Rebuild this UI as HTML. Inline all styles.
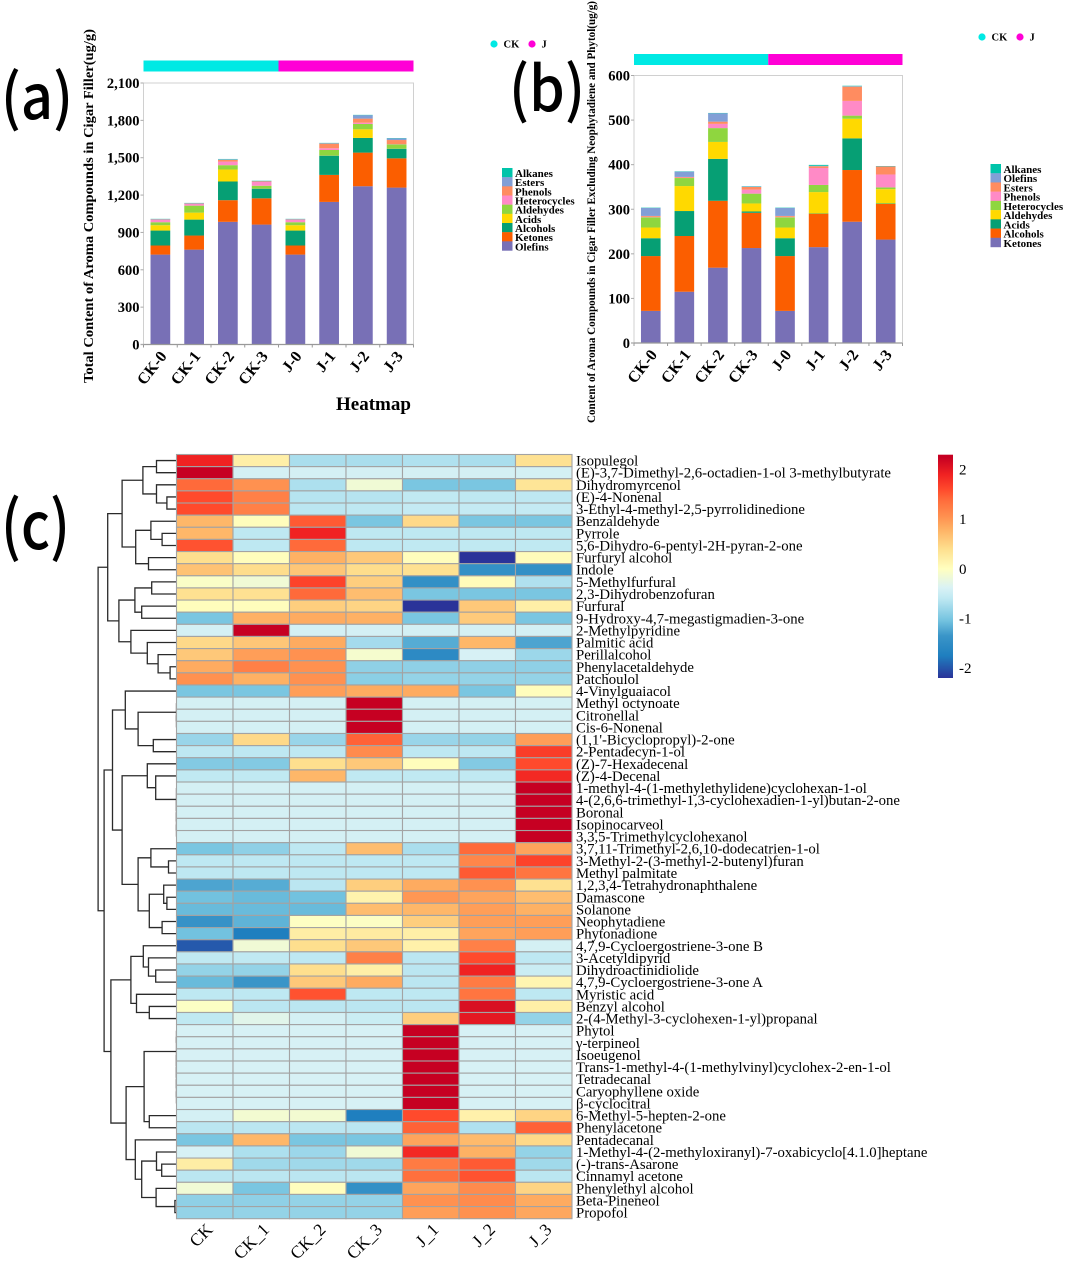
<!DOCTYPE html>
<html lang="en">
<head>
<meta charset="utf-8">
<title>Aroma compounds in cigar filler</title>
<style>
html,body{margin:0;padding:0;background:#fff;}
svg{display:block;}
text{font-family:"Liberation Serif","Noto Serif CJK SC",serif;fill:#000;}
.big{font-family:"Noto Sans CJK SC","Liberation Sans",sans-serif;font-weight:500;}
.bold{font-weight:bold;}
</style>
</head>
<body>
<svg id="figure" xmlns="http://www.w3.org/2000/svg" width="1065" height="1262" viewBox="0 0 1065 1262">
  <text class="big" x="1" y="119" font-size="62" textLength="72" lengthAdjust="spacingAndGlyphs">(a)</text>
  <text class="big" x="509" y="111" font-size="62" textLength="76" lengthAdjust="spacingAndGlyphs">(b)</text>
  <text class="big" x="1" y="549" font-size="66" textLength="69" lengthAdjust="spacingAndGlyphs">(c)</text>
  <text class="bold" transform="translate(93,383) rotate(-90)" font-size="14" textLength="354" lengthAdjust="spacingAndGlyphs">Total Content of Aroma Compounds in Cigar Filler(ug/g)</text>
  <text class="bold" transform="translate(595,423) rotate(-90)" font-size="11.5" textLength="422" lengthAdjust="spacingAndGlyphs">Content of Aroma Compounds in Cigar Filler Excluding Neophytadiene and Phytol(ug/g)</text>
  <text class="bold" x="336" y="410" font-size="19">Heatmap</text>
  <g id="chart-a"></g>
  <g id="chart-b"></g>
  <g id="dendrogram"></g>
  <g id="heatmap"></g>
  <g id="colorbar"></g>
</svg>
<script>
/* ---------- stacked bar data, chart (a) ---------- */
const categories = ['CK-0','CK-1','CK-2','CK-3','J-0','J-1','J-2','J-3'];
const aTicks = [0,300,600,900,1200,1500,1800,2100];
const aOlefins = [722,762,985,963,722,1145,1271,1260];
const aKetones = [73,113,174,211,73,217,270,235];
const aAlcohols = [120,128,150,78,120,155,118,78];
const aAcids = [43,56,96,2,43,3,69,2];
const aAldehydes = [24,56,35,21,24,42,43,33];
const aHeterocycles = [21,16,29,30,21,14,10,2];
const aPhenols = [2,3,14,5,2,37,33,32];
const aEsters = [2,2,4,3,2,4,28,14];
const aAlkanes = [2,1,3,2,2,2,2,2];

/* ---------- stacked bar data, chart (b) ---------- */
const bTicks = [0,100,200,300,400,500,600];
const bKetones = [72,115,169,213,72,215,272,232];
const bAlcohols = [123,125,150,79,123,75,116,80];
const bAcids = [40,56,94,3,40,0.5,71,1];
const bAldehydes = [24,56,38,18,24,48,44,32];
const bHeterocycles = [23,18,31,22,23,16,7,4];
const bPhenols = [1,1,9.5,9,1,38,33,29];
const bEsters = [2,1.5,5,6,2,4,32,18];
const bOlefins = [18,12,19,1,18,1,1,0.5];
const bAlkanes = [0.5,0.5,0.5,0.5,0.5,2,1,0.5];

/* ---------- heatmap data ---------- */
const columnLabels = ['CK','CK_1','CK_2','CK_3','J_1','J_2','J_3'];
const rowLabels = [
'Isopulegol','(E)-3,7-Dimethyl-2,6-octadien-1-ol 3-methylbutyrate','Dihydromyrcenol','(E)-4-Nonenal',
'3-Ethyl-4-methyl-2,5-pyrrolidinedione','Benzaldehyde','Pyrrole','5,6-Dihydro-6-pentyl-2H-pyran-2-one',
'Furfuryl alcohol','Indole','5-Methylfurfural','2,3-Dihydrobenzofuran','Furfural',
'9-Hydroxy-4,7-megastigmadien-3-one','2-Methylpyridine','Palmitic acid','Perillalcohol',
'Phenylacetaldehyde','Patchoulol','4-Vinylguaiacol','Methyl octynoate','Citronellal','Cis-6-Nonenal',
"(1,1'-Bicyclopropyl)-2-one",'2-Pentadecyn-1-ol','(Z)-7-Hexadecenal','(Z)-4-Decenal',
'1-methyl-4-(1-methylethylidene)cyclohexan-1-ol','4-(2,6,6-trimethyl-1,3-cyclohexadien-1-yl)butan-2-one',
'Boronal','Isopinocarveol','3,3,5-Trimethylcyclohexanol','3,7,11-Trimethyl-2,6,10-dodecatrien-1-ol',
'3-Methyl-2-(3-methyl-2-butenyl)furan','Methyl palmitate','1,2,3,4-Tetrahydronaphthalene','Damascone',
'Solanone','Neophytadiene','Phytonadione','4,7,9-Cycloergostriene-3-one B','3-Acetyldipyrid',
'Dihydroactinidiolide','4,7,9-Cycloergostriene-3-one A','Myristic acid','Benzyl alcohol',
'2-(4-Methyl-3-cyclohexen-1-yl)propanal','Phytol','γ-terpineol','Isoeugenol',
'Trans-1-methyl-4-(1-methylvinyl)cyclohex-2-en-1-ol','Tetradecanal','Caryophyllene oxide','β-cyclocitral',
'6-Methyl-5-hepten-2-one','Phenylacetone','Pentadecanal',
'1-Methyl-4-(2-methyloxiranyl)-7-oxabicyclo[4.1.0]heptane','(-)-trans-Asarone','Cinnamyl acetone',
'Phenylethyl alcohol','Beta-Pineneol','Propofol'];
const heatValues = [
[1.9,.2,-.72,-.72,-.68,-.72,.37],
[2.25,-.42,-.42,-.42,-.42,-.42,-.42],
[1.4,1.05,-.7,-.15,-1,-1,.33],
[1.6,1.2,-.65,-.65,-.58,-.6,-.6],
[1.6,1.2,-.62,-.6,-.55,-.55,-.55],
[.75,.03,1.5,-1,.45,-1,-1],
[.75,-.6,1.9,-.6,-.6,-.6,-.6],
[1.55,-.6,1.4,-.6,-.58,-.58,-.58],
[.4,.03,.8,.6,.03,-2.25,.05],
[.65,.42,.62,.42,.38,-1.45,-1.45],
[-.05,-.15,1.65,.55,-1.45,.05,-.68],
[.38,.37,1.4,.7,-1,-1,-1],
[.03,.03,.55,.5,-2.25,.6,.2],
[-1,.8,.85,.8,-1,.58,-1],
[-.42,2.25,-.42,-.42,-.42,-.42,-.42],
[.45,.62,.85,-.75,-1.2,.75,-1.25],
[.6,.95,1.05,-.1,-1.55,-.4,-.8],
[.85,1.2,1.05,-.88,-.88,-.88,-.88],
[1.05,.8,1.05,-.9,-.85,-.85,-.85],
[-1,-1,.95,.85,.85,-1,.03],
[-.42,-.42,-.42,2.25,-.42,-.42,-.42],
[-.42,-.42,-.42,2.25,-.42,-.42,-.42],
[-.42,-.42,-.42,2.25,-.42,-.42,-.42],
[-.82,.45,-.82,1.45,-.82,-.85,.95],
[-.6,-.6,-.6,1.1,-.6,-.6,1.7],
[-.95,-.95,.4,.6,.03,-.95,1.6],
[-.58,-.58,.75,-.58,-.58,-.58,1.85],
[-.42,-.42,-.42,-.42,-.42,-.42,2.25],
[-.42,-.42,-.42,-.42,-.42,-.42,2.25],
[-.42,-.42,-.42,-.42,-.42,-.42,2.25],
[-.42,-.42,-.42,-.42,-.42,-.42,2.25],
[-.42,-.42,-.42,-.42,-.42,-.42,2.25],
[-1,-.88,-.6,.7,-.72,1.4,.9],
[-.6,-.6,-.6,-.6,-.6,1.15,1.65],
[-.6,-.6,-.6,-.6,-.6,1.5,1.3],
[-1.25,-1.2,-.62,.55,.85,1.05,.38],
[-1.05,-1.1,-1.05,.15,1,.9,.7],
[-1.1,-1.1,-1.1,.7,.75,.95,.8],
[-1.4,-1.15,-.02,-.03,.55,.95,.95],
[-1.05,-1.75,.22,.25,.2,.9,.95],
[-2,-.15,.4,.6,.18,1.2,-.42],
[-.58,-.58,-.6,1.2,-.62,1.6,-.6],
[-.85,-.85,.4,.2,-.62,1.9,-.5],
[-1.1,-1.35,.6,.85,-.62,1.25,.12],
[-.6,-.6,1.55,-.6,-.6,1.3,-.6],
[-.03,-.62,-.62,-.62,-.62,2.1,.2],
[-.58,-.3,-.42,-.5,.55,2,-.85],
[-.4,-.4,-.4,-.4,2.25,-.4,-.4],
[-.4,-.4,-.4,-.4,2.25,-.4,-.4],
[-.4,-.4,-.4,-.4,2.25,-.4,-.4],
[-.4,-.4,-.4,-.4,2.25,-.4,-.4],
[-.4,-.4,-.4,-.4,2.25,-.4,-.4],
[-.4,-.4,-.4,-.4,2.25,-.4,-.4],
[-.4,-.4,-.4,-.4,2.25,-.4,-.4],
[-.42,-.12,-.12,-1.75,1.6,.17,.5],
[-.62,-.62,-.62,-.62,1.45,-.68,1.45],
[-1,.75,-1,-1,.9,.72,.45],
[-.4,-.7,-.8,-.15,1.85,.8,-.85],
[.22,-.78,-.78,-.78,1.25,1.5,-.78],
[-.62,-.62,-.62,-.62,1.35,1.55,-.62],
[-.15,-1,.02,-1.45,.9,1.1,.5],
[-.88,-.88,-.85,-.85,1.05,1.1,.85],
[-.85,-.85,-.85,-.85,.95,1.05,.88]];
const colorbarTicks = [2,1,0,-1,-2];

/* Dendrogram: [merge height, left branch, right branch]; a plain number is a 1-based row. */
const dendroTree = [98,
 [86,
  [68,[42,[25,1,2],[25,3,[12,4,5]]],[51,[32,6,[18,7,8]],[35,9,10]]],
  [72,[52,[31,11,12],[43.5,13,14]],[57,15,[36.5,16,[23,17,[8,18,19]]]]]
 ],
 [90.5,
  [80,
   [64,20,[48,[0,21,[0,22,23]],[29,24,25]]],
   [68,[36.5,26,[26,27,[0,28,[0,29,[0,30,[0,31,32]]]]]],
       [48,[32,33,[10,34,35]],[34,[16,36,[12,37,38]],[18,39,40]]]]
  ],
  [82,
   [57,[41.5,41,[35,42,[26,43,44]]],[50,45,[34,46,47]]],
   [63,[40.5,[0,[0,48,49],[0,50,[0,51,[0,52,[0,53,54]]]]],[34,55,56]],
       [51.5,57,[43.5,[25,58,[18.5,59,60]],[25.5,61,[2,62,63]]]]]
  ]
 ]
];

/* ---------- styling ---------- */
const seriesColor = {Olefins:'#7870b6',Ketones:'#fb5e00',Alcohols:'#069f74',Acids:'#ffd900',Aldehydes:'#8fd63f',Heterocycles:'#ff8ac6',Phenols:'#ff8c60',Esters:'#829fd6',Alkanes:'#00c4aa'};
const colorRamp = [[-2.25,'#2a3399'],[-1.75,'#1f7fbf'],[-1.35,'#3a95c8'],[-1.05,'#72c2df'],[-.6,'#bee8f2'],[-.38,'#d9f2f5'],[0,'#ffffc0'],[.4,'#fedf8e'],[.8,'#feb164'],[1.05,'#ff9150'],[1.4,'#ff6a3a'],[1.6,'#ff4a2c'],[1.9,'#f02222'],[2.25,'#c60022']];

const NS = 'http://www.w3.org/2000/svg';
function make(tag, parent, attrs, content) {
  const el = document.createElementNS(NS, tag);
  for (const k in attrs) el.setAttribute(k, attrs[k]);
  if (content !== undefined) el.textContent = content;
  parent.appendChild(el);
  return el;
}
function slug(s) { return String(s).toLowerCase().replace(/[^a-z0-9]+/g, '-').replace(/^-|-$/g, ''); }

function drawStack(root, prefix, cfg) {
  const L = cfg.left, R = cfg.right, T = cfg.top, B = cfg.bottom;
  const band = (R - L) / categories.length;
  const xScale = i => L + band * i;
  const maxTick = cfg.ticks[cfg.ticks.length - 1];
  const yScale = v => B - (v / maxTick) * (B - T);

  const half = L + (R - L) / 2;
  const stripCK = make('rect', root, {x: L, y: cfg.stripY, width: half - L, height: 11, fill: '#00e9e4'});
  
  
  const stripJ = make('rect', root, {x: half, y: cfg.stripY, width: R - half, height: 11, fill: '#ff00d6'});
  
  

  const frame = make('path', root, {d: `M${L} ${B}V${T}H${R}V${B}`, fill: 'none', stroke: '#d0d0d0', 'stroke-width': 1});
  
  

  categories.forEach((c, i) => {
    let base = 0;
    cfg.series.forEach(s => {
      const v = s.values[i];
      const y1 = yScale(base + v), y0 = yScale(base);
      const bar = make('rect', root, {x: xScale(i) + band * 0.208, y: y1, width: band * 0.584, height: Math.max(y0 - y1, 0.3), fill: seriesColor[s.colorKey]});
      
      
      base += v;
    });
    const xl = make('text', root, {class: 'bold', 'font-size': 16, 'text-anchor': 'end',
      transform: `translate(${xScale(i) + band / 2 + 7},${B + 12}) rotate(-52)`}, c);
    
    
  });

  const xAxis = make('line', root, {x1: L - 3, x2: R, y1: B, y2: B, stroke: '#999', 'stroke-width': 1.3});
  
  
  for (let i = 0; i <= categories.length; i++) {
    const t = make('line', root, {x1: xScale(i), x2: xScale(i), y1: B, y2: B + 3, stroke: '#999', 'stroke-width': 1});
    
    
  }
  cfg.ticks.forEach(v => {
    const t = make('line', root, {x1: L - 3, x2: L, y1: yScale(v), y2: yScale(v), stroke: '#aaa', 'stroke-width': 1});
    
    
    const lab = make('text', root, {class: 'bold', x: L - 4, y: yScale(v) + 5, 'font-size': 14.5, 'text-anchor': 'end'}, v.toLocaleString('en-US'));
    
    
  });

  /* series legend */
  const items = cfg.series.slice().reverse();
  const rowH = cfg.legendH / items.length;
  items.forEach((s, i) => {
    const sw = make('rect', root, {x: cfg.legendX, y: cfg.legendY + i * rowH, width: 10.5, height: rowH + 0.2, fill: seriesColor[s.colorKey]});
    
    
    const lab = make('text', root, {class: 'bold', x: cfg.legendX + 13, y: cfg.legendY + i * rowH + 9, 'font-size': 11}, s.name);
    
    
  });

  /* group legend */
  const c1 = make('circle', root, {cx: cfg.groupX, cy: cfg.groupY, r: 3.6, fill: '#00e9e4'});
  
  
  const t1 = make('text', root, {class: 'bold', x: cfg.groupX + 9.5, y: cfg.groupY + 3.6, 'font-size': 10.5}, 'CK');
  
  
  const c2 = make('circle', root, {cx: cfg.groupX + 38, cy: cfg.groupY, r: 3.6, fill: '#ff00d6'});
  
  
  const t2 = make('text', root, {class: 'bold', x: cfg.groupX + 47.5, y: cfg.groupY + 3.6, 'font-size': 10.5}, 'J');
  
  
}

drawStack(document.getElementById('chart-a'), 'chart-a', {
  left: 143.5, right: 413.5, top: 83, bottom: 344.5, stripY: 60.5, ticks: aTicks,
  legendX: 502, legendY: 168, legendH: 82.5, groupX: 494, groupY: 44,
  series: [
    {name:'Olefins',colorKey:'Olefins',values:aOlefins},
    {name:'Ketones',colorKey:'Ketones',values:aKetones},
    {name:'Alcohols',colorKey:'Alcohols',values:aAlcohols},
    {name:'Acids',colorKey:'Acids',values:aAcids},
    {name:'Aldehydes',colorKey:'Aldehydes',values:aAldehydes},
    {name:'Heterocycles',colorKey:'Heterocycles',values:aHeterocycles},
    {name:'Phenols',colorKey:'Phenols',values:aPhenols},
    {name:'Esters',colorKey:'Esters',values:aEsters},
    {name:'Alkanes',colorKey:'Alkanes',values:aAlkanes}
  ]
});
drawStack(document.getElementById('chart-b'), 'chart-b', {
  left: 634, right: 902.5, top: 75.5, bottom: 343, stripY: 54, ticks: bTicks,
  legendX: 990.5, legendY: 164, legendH: 83, groupX: 982, groupY: 37,
  series: [
    {name:'Ketones',colorKey:'Olefins',values:bKetones},
    {name:'Alcohols',colorKey:'Ketones',values:bAlcohols},
    {name:'Acids',colorKey:'Alcohols',values:bAcids},
    {name:'Aldehydes',colorKey:'Acids',values:bAldehydes},
    {name:'Heterocycles',colorKey:'Aldehydes',values:bHeterocycles},
    {name:'Phenols',colorKey:'Heterocycles',values:bPhenols},
    {name:'Esters',colorKey:'Phenols',values:bEsters},
    {name:'Olefins',colorKey:'Esters',values:bOlefins},
    {name:'Alkanes',colorKey:'Alkanes',values:bAlkanes}
  ]
});

/* ---------- heatmap ---------- */
const heatL = 176.5, heatR = 572, heatT = 454.5, heatB = 1218.7;
const cellW = (heatR - heatL) / columnLabels.length;
const cellH = (heatB - heatT) / rowLabels.length;
const colX = j => heatL + j * cellW;
const rowY = i => heatT + i * cellH;

function hexRGB(h) { return [1,3,5].map(p => parseInt(h.substr(p,2),16)); }
function colorFor(v) {
  if (v <= colorRamp[0][0]) return colorRamp[0][1];
  for (let i = 1; i < colorRamp.length; i++) {
    if (v <= colorRamp[i][0]) {
      const a = colorRamp[i-1], b = colorRamp[i];
      const t = (v - a[0]) / (b[0] - a[0]);
      const ca = hexRGB(a[1]), cb = hexRGB(b[1]);
      return 'rgb(' + ca.map((c,k) => Math.round(c + (cb[k]-c)*t)).join(',') + ')';
    }
  }
  return colorRamp[colorRamp.length-1][1];
}

const heatG = document.getElementById('heatmap');
heatValues.forEach((row, i) => {
  row.forEach((v, j) => {
    const cell = make('rect', heatG, {x: colX(j), y: rowY(i), width: cellW, height: cellH, fill: colorFor(v), stroke: '#a3a3a3', 'stroke-width': 1.1});
    
    
  });
  const lab = make('text', heatG, {x: 576, y: rowY(i) + cellH / 2 + 5, 'font-size': 14.75}, rowLabels[i]);
  
  
});
columnLabels.forEach((c, j) => {
  const lab = make('text', heatG, {'font-size': 17.5, 'text-anchor': 'end',
    transform: `translate(${colX(j) + cellW / 2 + 9},${heatB + 12}) rotate(-45)`}, c);
  
  
});

/* ---------- dendrogram ---------- */
const dendroG = document.getElementById('dendrogram');
const dendroX = h => heatL - h * 0.8;
function drawNode(node) {
  if (typeof node === 'number') return {y: rowY(node - 1) + cellH / 2, h: 0};
  const a = drawNode(node[1]), b = drawNode(node[2]);
  const x = dendroX(node[0]);
  const link = make('path', dendroG, {d: `M${dendroX(a.h)} ${a.y}H${x}V${b.y}H${dendroX(b.h)}`, fill: 'none', stroke: '#2a2a2a', 'stroke-width': 1.3});
  
  
  return {y: (a.y + b.y) / 2, h: node[0]};
}
drawNode(dendroTree);

/* ---------- colorbar ---------- */
const cbG = document.getElementById('colorbar');
const cbTop = 454.7, cbBottom = 678, cbX = 938, cbW = 15;
const cbMax = 2.3, cbMin = -2.2;
const cbY = v => cbTop + (cbMax - v) / (cbMax - cbMin) * (cbBottom - cbTop);
const defs = make('defs', cbG, {});
const grad = make('linearGradient', defs, {id: 'cb-grad', x1: 0, y1: 0, x2: 0, y2: 1});
colorRamp.slice().reverse().forEach(s => {
  make('stop', grad, {offset: Math.min(1, Math.max(0, (cbMax - s[0]) / (cbMax - cbMin))), 'stop-color': s[1]});
});
const cbRect = make('rect', cbG, {x: cbX, y: cbTop, width: cbW, height: cbBottom - cbTop, fill: 'url(#cb-grad)'});


colorbarTicks.forEach(v => {
  const lab = make('text', cbG, {x: 959, y: cbY(v) + 5, 'font-size': 15}, String(v));
  
  
});
</script>
</body>
</html>
